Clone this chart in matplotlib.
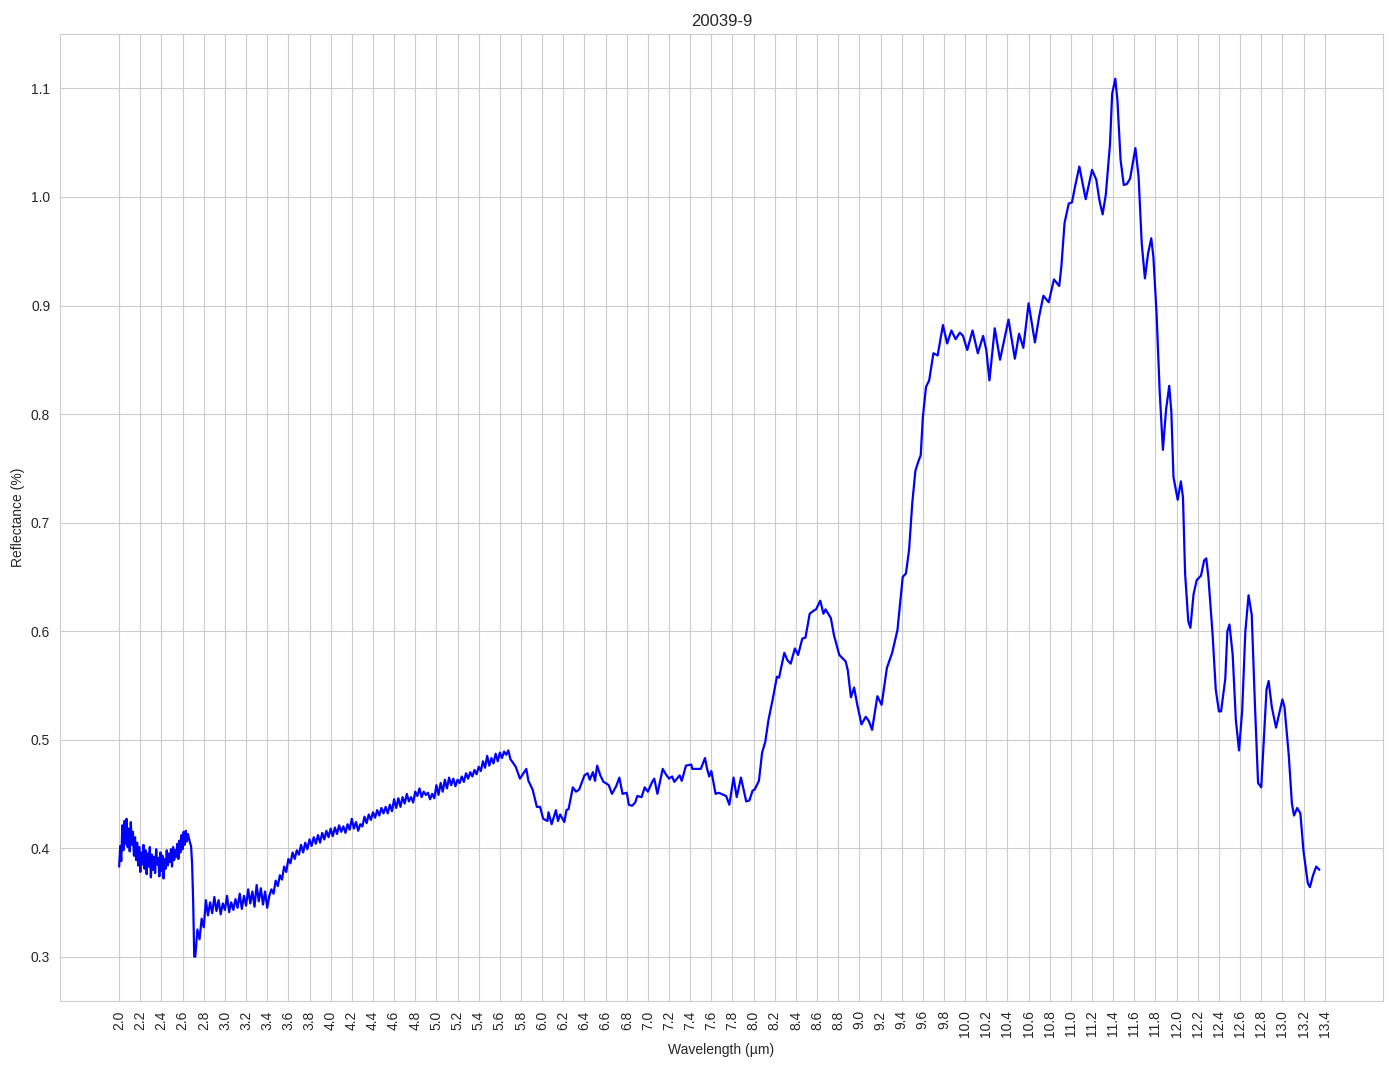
import numpy as np
import matplotlib
matplotlib.use("Agg")
import matplotlib.pyplot as plt
import seaborn as sns

# noisy start of the spectrum, 0.01 um step
wl_a = np.round(np.arange(2.00, 2.715, 0.01), 2)
refl_a = [0.383, 0.402, 0.388, 0.421, 0.398, 0.425, 0.404, 0.427, 0.401, 0.418,
          0.397, 0.424, 0.403, 0.415, 0.393, 0.410, 0.389, 0.405, 0.384, 0.401,
          0.378, 0.396, 0.385, 0.403, 0.381, 0.398, 0.376, 0.395, 0.383, 0.401,
          0.373, 0.394, 0.380, 0.392, 0.377, 0.399, 0.385, 0.391, 0.374, 0.396,
          0.379, 0.393, 0.372, 0.390, 0.381, 0.398, 0.384, 0.395, 0.387, 0.399,
          0.383, 0.401, 0.389, 0.398, 0.392, 0.404, 0.390, 0.407, 0.396, 0.412,
          0.399, 0.415, 0.403, 0.416, 0.406, 0.413, 0.409, 0.405, 0.402, 0.385,
          0.350, 0.300]

# 2.72 - 5.70 um, 0.02 um step
wl_b = np.round(np.arange(2.72, 5.705, 0.02), 2)
refl_b = [0.300, 0.325, 0.316, 0.335, 0.327, 0.352, 0.338, 0.350, 0.340, 0.355,
          0.342, 0.352, 0.339, 0.349, 0.343, 0.356, 0.341, 0.350, 0.343, 0.353,
          0.345, 0.358, 0.344, 0.356, 0.347, 0.362, 0.349, 0.360, 0.346, 0.366,
          0.351, 0.363, 0.348, 0.360, 0.345, 0.356, 0.362, 0.358, 0.370, 0.365,
          0.375, 0.371, 0.383, 0.378, 0.390, 0.386, 0.396, 0.390, 0.398, 0.394,
          0.403, 0.396, 0.405, 0.399, 0.408, 0.402, 0.410, 0.404, 0.412, 0.405,
          0.414, 0.408, 0.416, 0.410, 0.418, 0.411, 0.419, 0.413, 0.421, 0.415,
          0.420, 0.414, 0.422, 0.417, 0.427, 0.418, 0.424, 0.416, 0.422, 0.420,
          0.429, 0.423, 0.431, 0.426, 0.433, 0.428, 0.435, 0.430, 0.437, 0.432,
          0.438, 0.432, 0.440, 0.434, 0.445, 0.437, 0.446, 0.438, 0.447, 0.441,
          0.450, 0.443, 0.447, 0.442, 0.452,
          0.448, 0.455, 0.447, 0.452, 0.449, 0.451, 0.445, 0.450, 0.446, 0.458,
          0.449, 0.460, 0.452, 0.463, 0.455, 0.465, 0.458, 0.464, 0.457, 0.463,
          0.460, 0.466, 0.461, 0.469, 0.464, 0.470, 0.466, 0.472, 0.468, 0.475,
          0.471, 0.480, 0.474, 0.485, 0.476, 0.483, 0.478, 0.487, 0.480, 0.488,
          0.483, 0.489, 0.486, 0.490, 0.482]

# smoother long-wave part, read point by point
wl_c = [5.75, 5.79, 5.85, 5.87, 5.91, 5.95, 5.98, 6.01, 6.05, 6.06, 6.09, 6.13,
        6.15, 6.17, 6.21, 6.23, 6.25, 6.29, 6.32, 6.35, 6.40, 6.43, 6.45, 6.48,
        6.50, 6.52, 6.55, 6.58, 6.60, 6.63, 6.66, 6.70, 6.73, 6.76, 6.80, 6.82,
        6.85, 6.88, 6.90, 6.94, 6.97, 7.00, 7.04, 7.06, 7.09, 7.14, 7.17, 7.20,
        7.23, 7.25, 7.30, 7.32, 7.36, 7.41, 7.42, 7.50, 7.54, 7.56, 7.58, 7.60,
        7.64, 7.67, 7.74, 7.77, 7.81, 7.84, 7.88, 7.93, 7.96, 7.99, 8.01, 8.05,
        8.08, 8.11, 8.14, 8.18, 8.22, 8.24, 8.29, 8.32, 8.35, 8.39, 8.42, 8.46,
        8.49, 8.53, 8.57, 8.59, 8.63, 8.66, 8.68, 8.73, 8.76, 8.81, 8.87, 8.89,
        8.92, 8.95, 8.98, 9.02, 9.06, 9.09, 9.12, 9.17, 9.21, 9.26, 9.31, 9.36,
        9.41, 9.44, 9.47, 9.50, 9.53, 9.56, 9.58, 9.60, 9.63, 9.66, 9.70, 9.74,
        9.79, 9.83, 9.87, 9.91, 9.95, 9.98, 10.02, 10.07, 10.12, 10.17, 10.20,
        10.23, 10.28, 10.33, 10.41, 10.47, 10.51, 10.55, 10.60, 10.66, 10.70,
        10.74, 10.79, 10.84, 10.89, 10.91, 10.94, 10.98, 11.01, 11.04, 11.08,
        11.14, 11.20, 11.24, 11.27, 11.30, 11.33, 11.37, 11.39, 11.42, 11.44,
        11.47, 11.50, 11.53, 11.56, 11.61, 11.64, 11.67, 11.70, 11.73, 11.76,
        11.78, 11.81, 11.84, 11.87, 11.90, 11.93, 11.95, 11.97, 12.01, 12.04,
        12.06, 12.08, 12.11, 12.13, 12.16, 12.19, 12.23, 12.26, 12.28, 12.30,
        12.34, 12.37, 12.40, 12.42, 12.46, 12.48, 12.50, 12.53, 12.56, 12.59,
        12.62, 12.65, 12.68, 12.71, 12.74, 12.77, 12.80, 12.83, 12.85, 12.87,
        12.90, 12.94, 12.97, 13.00, 13.02, 13.06, 13.09, 13.11, 13.14, 13.17,
        13.20, 13.24, 13.26, 13.29, 13.32, 13.35]
refl_c = [0.475, 0.464, 0.473, 0.462, 0.454, 0.438, 0.438, 0.427, 0.425, 0.433, 0.422, 0.435,
          0.425, 0.431, 0.424, 0.435, 0.436, 0.456, 0.452, 0.454, 0.467, 0.469, 0.463, 0.470,
          0.462, 0.476, 0.467, 0.461, 0.460, 0.458, 0.450, 0.457, 0.465, 0.450, 0.451, 0.440,
          0.439, 0.442, 0.448, 0.447, 0.456, 0.452, 0.461, 0.464, 0.450, 0.473, 0.468, 0.464,
          0.466, 0.461, 0.467, 0.462, 0.476, 0.477, 0.473, 0.473, 0.483, 0.473, 0.466, 0.471,
          0.450, 0.451, 0.448, 0.440, 0.465, 0.447, 0.465, 0.443, 0.444, 0.453, 0.454, 0.462,
          0.488, 0.498, 0.518, 0.537, 0.558, 0.557, 0.580, 0.573, 0.570, 0.584, 0.578, 0.593,
          0.594, 0.616, 0.619, 0.620, 0.628, 0.616, 0.620, 0.612, 0.596, 0.578, 0.572, 0.564,
          0.539, 0.548, 0.532, 0.514, 0.521, 0.517, 0.509, 0.540, 0.532, 0.566, 0.580, 0.601,
          0.650, 0.653, 0.675, 0.718, 0.748, 0.757, 0.762, 0.797, 0.825, 0.831, 0.856, 0.854,
          0.882, 0.865, 0.877, 0.869, 0.875, 0.872, 0.859, 0.877, 0.856, 0.872, 0.859,
          0.831, 0.879, 0.850, 0.887, 0.851, 0.874, 0.861, 0.902, 0.866, 0.890,
          0.909, 0.903, 0.924, 0.918, 0.936, 0.976, 0.994, 0.995, 1.010, 1.028,
          0.998, 1.025, 1.016, 0.997, 0.984, 1.002, 1.049, 1.095, 1.109, 1.089,
          1.034, 1.011, 1.012, 1.017, 1.045, 1.019, 0.957, 0.925, 0.948, 0.962,
          0.945, 0.893, 0.820, 0.767, 0.804, 0.826, 0.802, 0.742, 0.721, 0.738,
          0.723, 0.653, 0.609, 0.603, 0.634, 0.647, 0.651, 0.665, 0.667, 0.650,
          0.597, 0.546, 0.526, 0.526, 0.556, 0.600, 0.606, 0.578, 0.518, 0.490,
          0.527, 0.600, 0.633, 0.615, 0.533, 0.460, 0.456, 0.511, 0.546, 0.554,
          0.530, 0.511, 0.524, 0.537, 0.530, 0.486, 0.441, 0.430, 0.437, 0.432,
          0.397, 0.368, 0.364, 0.375, 0.383, 0.380]

wavelength = np.concatenate([wl_a, wl_b, wl_c])
reflectance = np.concatenate([refl_a, refl_b, refl_c])

sns.set_style("whitegrid")
plt.rcParams['font.family'] = ['Liberation Sans', 'DejaVu Sans']

fig = plt.figure(figsize=(13.94, 10.69), dpi=100)
ax = fig.add_axes([0.043, 0.064, 0.949, 0.904])
ax.plot(wavelength, reflectance, color='blue', linewidth=1.6)

xt = np.round(np.arange(2.0, 13.45, 0.2), 1)
ax.set_xticks(xt)
ax.set_xticklabels([f"{v:.1f}" for v in xt], rotation=90)
ax.set_xlim(1.44, 13.95)
ax.set_ylim(0.2595, 1.15)
ax.tick_params(labelsize=10)

ax.set_title("20039-9", fontsize=12)
ax.set_xlabel("Wavelength (µm)", fontsize=10)
ax.set_ylabel("Reflectance (%)", fontsize=10)

fig.savefig("out.png", dpi=100)
